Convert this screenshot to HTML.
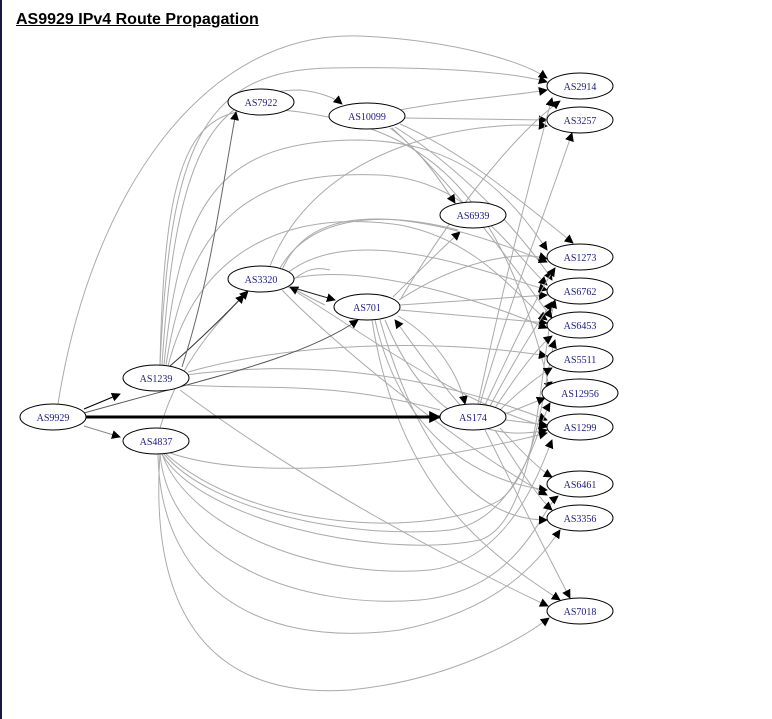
<!DOCTYPE html>
<html><head><meta charset="utf-8"><style>
body{margin:0;background:#fff;width:772px;height:719px;overflow:hidden;position:relative}
.bar{position:absolute;left:0;top:0;width:2px;height:719px;background:#1a1a40}
h1{position:absolute;left:16px;top:11px;margin:0;font:bold 16px "Liberation Sans",sans-serif;text-decoration:underline;color:#000}
svg{position:absolute;left:0;top:0}
text{font-family:"Liberation Serif",serif;font-size:10px;fill:#1a1a80;text-anchor:middle}
</style></head><body>
<div class="bar"></div>
<h1>AS9929 IPv4 Route Propagation</h1>
<svg width="772" height="719" viewBox="0 0 772 719">
<defs>
<marker id="a" viewBox="0 0 10 10" refX="9" refY="5" markerWidth="9" markerHeight="9" markerUnits="userSpaceOnUse" orient="auto"><path d="M0,0L10,5L0,10z" fill="#000"/></marker>
<marker id="b" viewBox="0 0 10 10" refX="9" refY="5" markerWidth="12" markerHeight="12" markerUnits="userSpaceOnUse" orient="auto"><path d="M0,0L10,5L0,10z" fill="#000"/></marker>
</defs>
<g fill="none" stroke="#aaa" stroke-width="1">
<path d="M58,404 C90,200 200,30 360,36 C450,40 520,60 547,78" marker-end="url(#a)"/>
<path d="M160,365 C170,150 200,70 330,68 C450,66 520,74 547,82" marker-end="url(#a)"/>
<path d="M162,365 C175,160 210,90 300,90 C320,92 335,98 342,104" marker-end="url(#a)"/>
<path d="M164,365 C180,200 220,140 360,140 C450,142 500,180 547,250" marker-end="url(#a)"/>
<path d="M166,365 C190,210 260,170 380,175 C470,180 510,250 547,285" marker-end="url(#a)"/>
<path d="M168,366 C200,240 300,210 400,225 C480,240 520,300 547,320" marker-end="url(#a)"/>
<path d="M160,365 C165,120 200,100 300,112 C420,130 500,180 550,390" marker-end="url(#a)"/>
<path d="M186,375 C300,360 420,370 547,420" marker-end="url(#a)"/>
<path d="M180,390 C300,480 450,560 548,606" marker-end="url(#a)"/>
<path d="M188,372 C300,340 450,340 547,356" marker-end="url(#a)"/>
<path d="M186,385 C260,390 330,380 440,410"/>
<path d="M160,454 C150,600 200,700 350,690 C450,680 520,640 549,618" marker-end="url(#a)"/>
<path d="M158,454 C160,580 250,650 400,630 C500,610 540,560 560,530" marker-end="url(#a)"/>
<path d="M160,454 C170,560 300,610 420,600 C520,590 540,510 558,496" marker-end="url(#a)"/>
<path d="M162,454 C190,530 320,580 430,570 C510,560 540,470 552,440" marker-end="url(#a)"/>
<path d="M164,454 C210,510 350,540 450,530 C520,520 540,420 550,403" marker-end="url(#a)"/>
<path d="M170,453 C250,480 400,470 547,433" marker-end="url(#a)"/>
<path d="M160,428 C180,360 220,320 248,291" marker-end="url(#a)"/>
<path d="M162,454 C200,520 380,560 480,540 C540,520 540,350 555,300" marker-end="url(#a)"/>
<path d="M166,454 C250,530 430,540 500,500 C540,470 545,370 555,340" marker-end="url(#a)"/>
<path d="M400,110 C450,100 520,95 547,90" marker-end="url(#a)"/>
<path d="M405,118 L547,120" marker-end="url(#a)"/>
<path d="M390,128 C420,150 440,180 455,203" marker-end="url(#a)"/>
<path d="M400,124 C460,150 520,200 573,243" marker-end="url(#a)"/>
<path d="M395,127 C480,180 540,260 552,280" marker-end="url(#a)"/>
<path d="M392,128 C470,200 530,290 552,318" marker-end="url(#a)"/>
<path d="M393,297 C420,270 440,250 460,232" marker-end="url(#a)"/>
<path d="M399,300 C460,260 520,250 547,259" marker-end="url(#a)"/>
<path d="M400,305 L547,295" marker-end="url(#a)"/>
<path d="M400,310 L547,323" marker-end="url(#a)"/>
<path d="M400,300 C460,200 520,130 560,101" marker-end="url(#a)"/>
<path d="M398,316 C440,340 460,380 465,404" marker-end="url(#a)"/>
<path d="M375,320 C400,430 470,480 547,490" marker-end="url(#a)"/>
<path d="M380,320 C420,460 480,520 547,520" marker-end="url(#a)"/>
<path d="M385,320 C430,430 500,440 547,430" marker-end="url(#a)"/>
<path d="M372,320 C400,500 500,560 560,600" marker-end="url(#a)"/>
<path d="M282,270 C320,180 470,230 547,262" marker-end="url(#a)"/>
<path d="M285,275 C350,220 480,270 547,290" marker-end="url(#a)"/>
<path d="M287,280 C360,260 480,300 547,328" marker-end="url(#a)"/>
<path d="M280,268 C320,200 420,220 458,230"/>
<path d="M282,290 C330,340 450,440 547,495" marker-end="url(#a)"/>
<path d="M285,285 C360,330 450,400 547,427" marker-end="url(#a)"/>
<path d="M270,266 C320,140 480,120 547,126" marker-end="url(#a)"/>
<path d="M325,305 C310,298 300,292 290,287" marker-end="url(#a)"/>
<path d="M478,404 C500,300 530,180 552,98" marker-end="url(#a)"/>
<path d="M480,404 C510,300 550,200 572,133" marker-end="url(#a)"/>
<path d="M485,405 C520,330 540,290 555,268" marker-end="url(#a)"/>
<path d="M490,406 C520,350 540,320 552,302" marker-end="url(#a)"/>
<path d="M495,408 C520,370 540,345 552,336" marker-end="url(#a)"/>
<path d="M500,410 C520,390 540,375 552,368" marker-end="url(#a)"/>
<path d="M505,414 L545,398" marker-end="url(#a)"/>
<path d="M506,420 L547,425" marker-end="url(#a)"/>
<path d="M500,428 C520,450 540,470 552,477" marker-end="url(#a)"/>
<path d="M495,430 C520,470 540,500 552,510" marker-end="url(#a)"/>
<path d="M485,430 C520,500 550,560 570,598" marker-end="url(#a)"/>
<path d="M460,405 C430,370 410,340 395,320" marker-end="url(#a)"/>
<path d="M330,270 C310,265 300,275 290,282"/>
</g>
<g fill="none" stroke="#000">
<path d="M84,409 L120,394" stroke-width="1.2" marker-end="url(#a)"/>
<path d="M84,426 L120,437" stroke="#888" marker-end="url(#a)"/>
<path d="M86,417 L440,417" stroke-width="3" marker-end="url(#b)"/>
<path d="M84,413 C200,380 300,360 358,320" stroke="#555" marker-end="url(#a)"/>
<path d="M170,366 C200,340 230,310 244,295" stroke="#333" marker-end="url(#a)"/>
<path d="M182,367 C210,280 220,200 236,112" stroke="#666" marker-end="url(#a)"/>
<path d="M294,288 L335,300" stroke="#222" marker-end="url(#a)"/>
</g>
<g fill="#fff" stroke="#000" stroke-width="1">
<ellipse cx="53" cy="417" rx="33" ry="13"/>
<ellipse cx="156" cy="378" rx="33" ry="13"/>
<ellipse cx="156" cy="441" rx="33" ry="13"/>
<ellipse cx="261" cy="102" rx="33" ry="13"/>
<ellipse cx="367" cy="116" rx="38" ry="13"/>
<ellipse cx="261" cy="279" rx="33" ry="13"/>
<ellipse cx="367" cy="307" rx="33" ry="13"/>
<ellipse cx="473" cy="215" rx="33" ry="13"/>
<ellipse cx="473" cy="417" rx="33" ry="13"/>
<ellipse cx="580" cy="86" rx="33" ry="13"/>
<ellipse cx="580" cy="120" rx="33" ry="13"/>
<ellipse cx="580" cy="257" rx="33" ry="13"/>
<ellipse cx="580" cy="291" rx="33" ry="13"/>
<ellipse cx="580" cy="325" rx="33" ry="13"/>
<ellipse cx="580" cy="359" rx="33" ry="13"/>
<ellipse cx="580" cy="393" rx="38" ry="14"/>
<ellipse cx="580" cy="427" rx="33" ry="13"/>
<ellipse cx="580" cy="484" rx="33" ry="13"/>
<ellipse cx="580" cy="518" rx="33" ry="13"/>
<ellipse cx="580" cy="611" rx="33" ry="13"/>
</g>
<text x="53" y="421">AS9929</text>
<text x="156" y="382">AS1239</text>
<text x="156" y="445">AS4837</text>
<text x="261" y="106">AS7922</text>
<text x="367" y="120">AS10099</text>
<text x="261" y="283">AS3320</text>
<text x="367" y="311">AS701</text>
<text x="473" y="219">AS6939</text>
<text x="473" y="421">AS174</text>
<text x="580" y="90">AS2914</text>
<text x="580" y="124">AS3257</text>
<text x="580" y="261">AS1273</text>
<text x="580" y="295">AS6762</text>
<text x="580" y="329">AS6453</text>
<text x="580" y="363">AS5511</text>
<text x="580" y="397">AS12956</text>
<text x="580" y="431">AS1299</text>
<text x="580" y="488">AS6461</text>
<text x="580" y="522">AS3356</text>
<text x="580" y="615">AS7018</text>
</svg>
</body></html>
